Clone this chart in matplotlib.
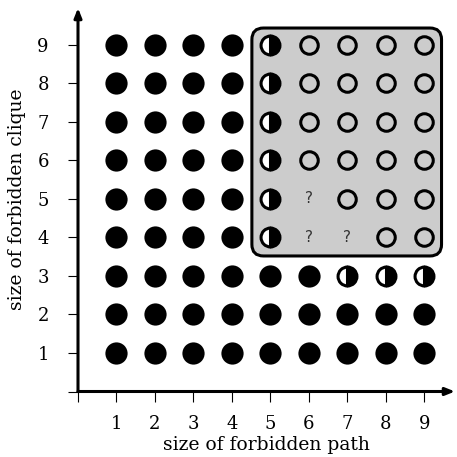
import matplotlib
matplotlib.use("Agg")
import matplotlib.pyplot as plt
from matplotlib.patches import FancyBboxPatch

plt.rcParams['font.family'] = ['DejaVu Serif']

path_sizes = [1, 2, 3, 4, 5, 6, 7, 8, 9]
clique_sizes = [1, 2, 3, 4, 5, 6, 7, 8, 9]
# status per clique size (rows), per path size (columns)
# F = filled, H = half, O = open, Q = unknown
status = {
    1: "FFFFFFFFF",
    2: "FFFFFFFFF",
    3: "FFFFFFHHH",
    4: "FFFFHQQOO",
    5: "FFFFHQOOO",
    6: "FFFFHOOOO",
    7: "FFFFHOOOO",
    8: "FFFFHOOOO",
    9: "FFFFHOOOO",
}
xlabel = "size of forbidden path"
ylabel = "size of forbidden clique"
box_x = (4.52, 9.45)
box_y = (3.52, 9.44)

fig = plt.figure(figsize=(4.57, 4.57), dpi=100)
ax = fig.add_axes([78/457, 65.5/457, 377/457, 383.5/457])
ax.set_xlim(0, 9.8)
ax.set_ylim(0, 9.96)
for s in ax.spines.values():
    s.set_visible(False)

box = FancyBboxPatch((box_x[0], box_y[0]), box_x[1]-box_x[0], box_y[1]-box_y[0],
                     boxstyle="round,pad=0,rounding_size=0.3",
                     facecolor="#cccccc", edgecolor="black", linewidth=2.2, zorder=1)
ax.add_patch(box)

for c in clique_sizes:
    row = status[c]
    for p, code in zip(path_sizes, row):
        if code == "F":
            ax.plot(p, c, marker="o", ms=16, mfc="black", mec="black", mew=0, zorder=3)
        elif code == "H":
            ax.plot(p, c, marker="o", ms=13.6, fillstyle="right", mfc="black",
                    mfcalt="white", mec="black", mew=2.2, zorder=3)
        elif code == "O":
            ax.plot(p, c, marker="o", ms=12.6, mfc="none", mec="black", mew=2.2, zorder=3)
        elif code == "Q":
            ax.text(p, c, "?", ha="center", va="center", fontsize=11,
                    color="#333333", family="DejaVu Sans", zorder=3)

ax.annotate("", xy=(1.0, 0), xytext=(0, 0), xycoords="axes fraction",
            arrowprops=dict(arrowstyle="-|>,head_length=0.55,head_width=0.22", lw=2.2, color="black",
                            shrinkA=0, shrinkB=0), annotation_clip=False)
ax.annotate("", xy=(0, 1.0), xytext=(0, 0), xycoords="axes fraction",
            arrowprops=dict(arrowstyle="-|>,head_length=0.55,head_width=0.22", lw=2.2, color="black",
                            shrinkA=0, shrinkB=0), annotation_clip=False)

ax.set_xticks([0] + path_sizes)
ax.set_xticklabels([""] + [str(v) for v in path_sizes])
ax.set_yticks([0] + clique_sizes)
ax.set_yticklabels([""] + [str(v) for v in clique_sizes])
ax.tick_params(axis="x", direction="out", length=7, width=0.8, labelsize=13, pad=10)
ax.tick_params(axis="y", direction="out", length=7, width=0.8, labelsize=13, pad=14)
ax.set_xlabel(xlabel, fontsize=13.5, labelpad=2)
ax.set_ylabel(ylabel, fontsize=13.5, labelpad=8)

fig.savefig("out.png", dpi=100)
